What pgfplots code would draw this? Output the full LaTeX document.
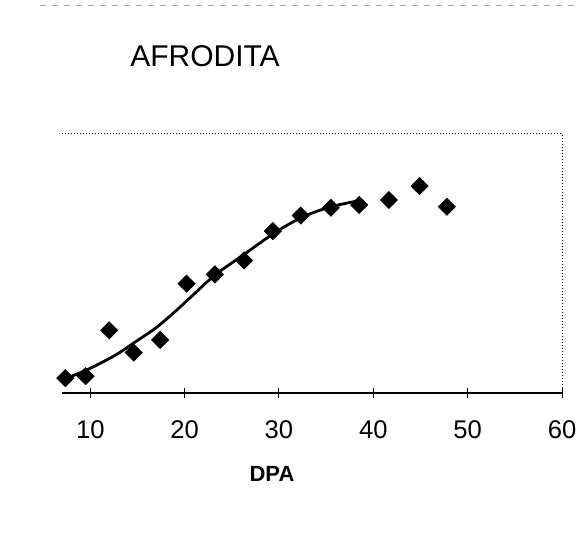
\documentclass[border=0pt]{standalone}
\usepackage{fontspec}
\setmainfont{Liberation Sans}
\usepackage{pgfplots}
\pgfplotsset{compat=1.18}

\begin{document}
\begin{tikzpicture}
% page frame: 576 x 533 px at 0.5pt per px
\path[use as bounding box] (0,0) rectangle (288pt,266.5pt);
\draw[gray!70, line width=0.4pt, dash pattern=on 3pt off 3pt] (20pt,264pt) -- (288pt,264pt);

\begin{axis}[
    at={(31pt,70pt)}, anchor=south west,
    scale only axis,
    width=250pt, height=129.5pt,
    xmin=7, xmax=60,
    ymin=0, ymax=100,
    axis line style={draw=none},
    xtick={10,20,30,40,50,60},
    xtick pos=bottom,
    ytick=\empty,
    tick align=center,
    major tick length=5pt,
    tick style={black, line width=0.5pt},
    /pgf/number format/assume math mode=true,
    xticklabel style={font=\fontsize{12.8}{14}\selectfont, yshift=-8pt},
    xlabel={\bfseries DPA},
    xlabel style={font=\fontsize{11}{13}\selectfont,
        at={(axis description cs:0.42,-0.313)}, anchor=center},
    title={AFRODITA},
    title style={font=\fontsize{15}{17}\selectfont,
        at={(axis description cs:0.286,1.255)}, anchor=center},
    clip=false,
]
% frame: solid bottom axis, dotted top and right border
\draw[black, line width=0.6pt] (rel axis cs:0,0) -- (rel axis cs:1,0);
\draw[black, line width=0.5pt, densely dotted]
    (rel axis cs:0,1) -- (rel axis cs:1,1) -- (rel axis cs:1,0);

% fitted curve
\addplot[black, line width=1.4pt, smooth, no marks] coordinates {
    (7.4, 5.6)
    (9.8, 9.2)
    (12.7, 14.7)
    (14.8, 19.8)
    (16.9, 25.0)
    (18.7, 30.5)
    (20.5, 36.5)
    (23.2, 45.5)
    (26.3, 53.5)
    (29.4, 61.5)
    (32.4, 67.8)
    (35.4, 71.8)
    (38.4, 74.2)
};

% observations
\addplot[only marks, mark=square*, mark size=3pt, black,
    every mark/.append style={rotate=45}] coordinates {
    (7.35, 5.7)
    (9.5, 6.5)
    (12.0, 24.2)
    (14.6, 15.6)
    (17.4, 20.5)
    (20.2, 42.2)
    (23.2, 45.8)
    (26.3, 51.2)
    (29.35, 62.5)
    (32.3, 68.5)
    (35.5, 71.5)
    (38.5, 72.6)
    (41.65, 74.5)
    (44.9, 79.9)
    (47.8, 71.9)
};
\end{axis}
\end{tikzpicture}
\end{document}
